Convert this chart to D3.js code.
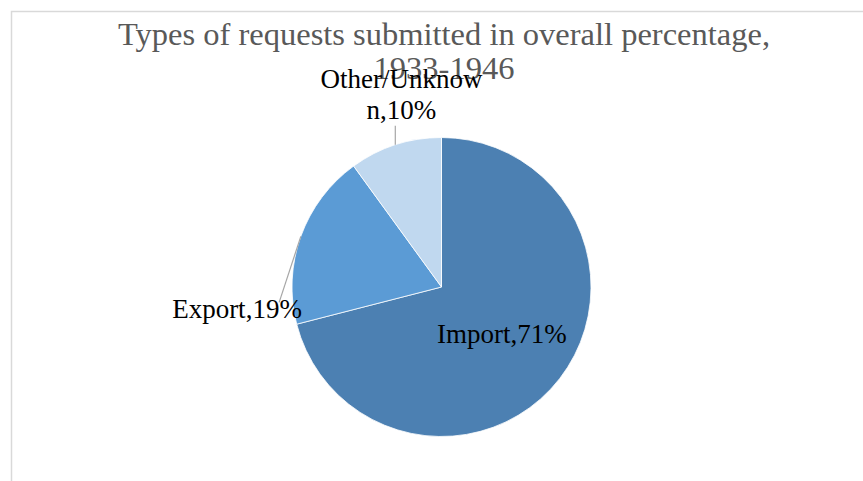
<!DOCTYPE html>
<html>
<head>
<meta charset="utf-8">
<script src="https://cdn.jsdelivr.net/npm/d3@7/dist/d3.min.js"></script>
<style>
  html, body { margin: 0; padding: 0; background: #fff; }
  svg { display: block; }
</style>
</head>
<body>
<svg id="chart" width="863" height="481"></svg>
<script>
// Request types and their share of all requests, 1933-1946
const categories = ["Import", "Export", "Other/Unknown"];
const shares = [71, 19, 10];
const colors = ["#4c80b2", "#5b9bd5", "#c0d8ef"];
const titleLines = ["Types of requests submitted in overall percentage,", "1933-1946"];

const W = 863, H = 481;
const svg = d3.select("#chart");
const serif = "'Liberation Serif', 'Times New Roman', serif";

// chart frame (light grey, running past the right and bottom edges)
svg.append("rect")
  .attr("x", 11.5).attr("y", 11.5)
  .attr("width", W + 20).attr("height", H + 20)
  .attr("fill", "none").attr("stroke", "#d9d9d9").attr("stroke-width", 1.5);

// title
const title = svg.append("text")
  .attr("text-anchor", "middle")
  .attr("font-family", serif)
  .attr("font-size", 32.5)
  .attr("fill", "#595959");
title.selectAll("tspan").data(titleLines).join("tspan")
  .attr("x", 444)
  .attr("y", (d, i) => 45 + i * 34)
  .text(d => d);

// pie
const cx = 441.5, cy = 287, r = 149.5;
const data = categories.map((c, i) => ({ name: c, value: shares[i], color: colors[i] }));
const pie = d3.pie().value(d => d.value).sort(null);
const arcs = pie(data);
const arc = d3.arc().innerRadius(0).outerRadius(r);

const g = svg.append("g").attr("transform", `translate(${cx},${cy})`);
g.selectAll("path").data(arcs).join("path")
  .attr("d", arc)
  .attr("fill", d => d.data.color)
  .attr("stroke", "#ffffff")
  .attr("stroke-width", 0.8);

// label placement: anchor at k * radius along the slice's mid angle, then nudged
const placement = {
  "Import":        { k: 0.5, dx: 1.4, dy: 10.2 },
  "Export":        { k: 1.2, dx: -35.7, dy: 91.8, leader: [-21.7, 66] },
  "Other/Unknown": { k: 1.2, dx: 15.4, dy: -28.4, wrap: 12, leader: [0, -19] }
};

const polar = (a, rr) => [rr * Math.sin(a), -rr * Math.cos(a)];
const lineH = 31;
const leaderColor = "#a6a6a6";

arcs.forEach(a => {
  const name = a.data.name;
  const p = placement[name];
  const mid = (a.startAngle + a.endAngle) / 2;
  const text = `${name},${a.data.value}%`;
  let lines = [text];
  if (p.wrap && text.length > p.wrap) {
    lines = [];
    for (let i = 0; i < text.length; i += p.wrap) lines.push(text.slice(i, i + p.wrap));
  }

  // leader line from the rim at the slice's mid angle
  if (p.leader) {
    const [ex, ey] = polar(mid, r);
    g.append("line")
      .attr("x1", ex).attr("y1", ey)
      .attr("x2", ex + p.leader[0]).attr("y2", ey + p.leader[1])
      .attr("stroke", leaderColor).attr("stroke-width", 1.2);
  }

  const [lx, ly] = polar(mid, r * p.k);
  const t = g.append("text")
    .attr("text-anchor", "middle")
    .attr("font-family", serif)
    .attr("font-size", 27)
    .attr("fill", "#000");
  t.selectAll("tspan").data(lines).join("tspan")
    .attr("x", lx + p.dx)
    .attr("y", (d, i) => ly + p.dy + i * lineH)
    .text(d => d);
});
</script>
</body>
</html>
